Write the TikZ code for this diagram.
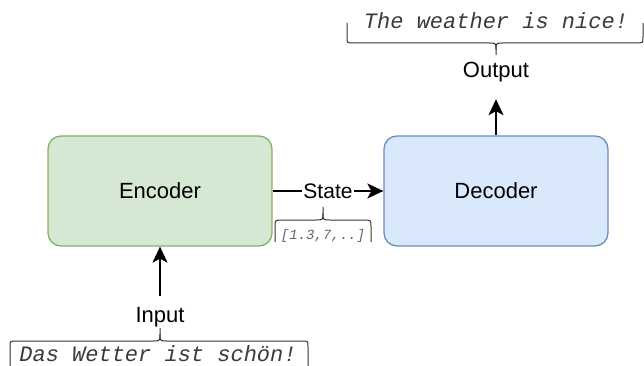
\documentclass[tikz,border=0pt]{standalone}
\usepackage{fontspec}
\setmainfont{Liberation Sans}
\setmonofont{Liberation Mono}
\usetikzlibrary{arrows.meta}
\definecolor{encfill}{HTML}{D5E8D4}
\definecolor{encline}{HTML}{82B366}
\definecolor{decfill}{HTML}{DAE8FC}
\definecolor{decline}{HTML}{6C8EBF}
\definecolor{bracecol}{HTML}{333333}
\definecolor{codecol}{HTML}{3A3A3A}
\definecolor{smallcode}{HTML}{666666}
\begin{document}
\begin{tikzpicture}[x=1pt,y=-1pt,
  block/.style={draw, line width=1.3pt, rounded corners=13pt, minimum width=224pt, minimum height=110pt, font=\fontsize{22}{24}\selectfont},
  label/.style={font=\fontsize{22}{24}\selectfont, text height=16pt, text depth=5pt},
  code/.style={font=\fontsize{22}{24}\ttfamily\itshape, text=codecol, inner sep=0pt},
  arr/.style={line width=1.8pt, -{Stealth[length=16pt,width=15pt,inset=4pt]}},
  brace/.style={draw=bracecol, line width=1pt}]
\useasboundingbox (0,0) rectangle (644,366);

% processing blocks
\node[block, fill=encfill, draw=encline] (enc) at (160,191) {Encoder};
\node[block, fill=decfill, draw=decline] (dec) at (496,191) {Decoder};

% input side
\node[label, anchor=base, inner xsep=2pt, inner ysep=10pt] (inp) at (160,322) {Input};
\draw[arr] (inp.north) -- (enc.south);
\draw[brace] (10,366) -- (10,347) .. controls (10,341) .. (16,341) -- (153,341)
  .. controls (160,341) .. (160,334) -- (160,328);
\draw[brace] (160,334) .. controls (160,341) .. (167,341) -- (302,341)
  .. controls (308,341) .. (308,347) -- (308,366);
\node[code, anchor=base] (src) at (158,361) {Das Wetter ist schön!};

% output side
\node[label, anchor=base, inner xsep=2pt, inner ysep=16pt] (out) at (496,78) {Output};
\draw[arr] (dec.north) -- (out.south);
\draw[brace] (347,23) -- (347,37) .. controls (347,43) .. (353,43) -- (489,43)
  .. controls (496,43) .. (496,50) -- (496,55);
\draw[brace] (496,50) .. controls (496,43) .. (503,43) -- (637,43)
  .. controls (643,43) .. (643,37) -- (643,23);
\node[code, anchor=base] (tgt) at (496,29) {The weather is nice!};

% hidden state passed between the blocks
\draw[arr] (enc.east) -- node[fill=white, inner sep=1pt, font=\fontsize{21}{24}\selectfont] (state) {State} (dec.west);
\draw[brace] (275,242) -- (275,227) .. controls (275,220) .. (282,220) -- (316,220)
  .. controls (323,220) .. (323,213) -- (323,207);
\draw[brace] (323,213) .. controls (323,220) .. (330,220) -- (364,220)
  .. controls (371,220) .. (371,227) -- (371,242);
\node[font=\fontsize{14}{16}\ttfamily\itshape, text=smallcode, anchor=base, inner sep=0pt] (vec) at (323,239) {[1.3,7,..]};
\end{tikzpicture}
\end{document}
